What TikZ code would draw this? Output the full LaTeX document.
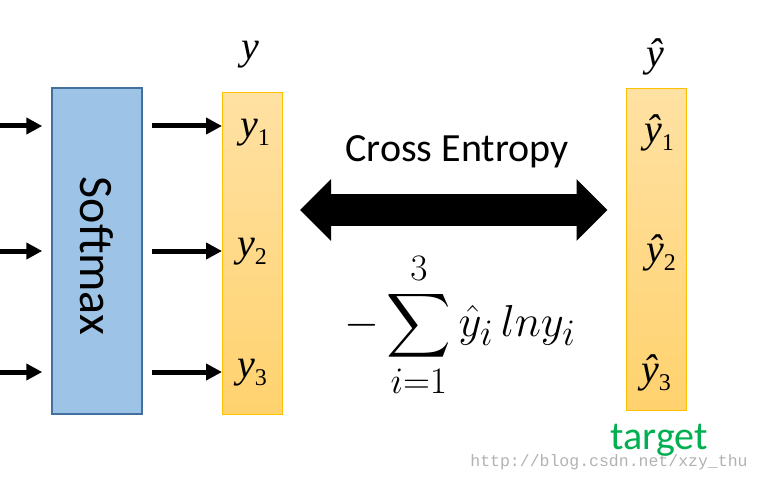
\documentclass[tikz,border=0pt]{standalone}
\usepackage{graphicx}
\usepackage{amsmath}
\usepackage{exscale}
\usepackage{fontspec}
\setmainfont{Carlito}
\newfontfamily\timesf{Liberation Serif}
\newfontfamily\monof{Liberation Mono}
\usetikzlibrary{arrows.meta,positioning}
\definecolor{smfill}{HTML}{9DC3E6}
\definecolor{smdraw}{HTML}{41719C}
\definecolor{vectop}{HTML}{FFE1A3}
\definecolor{vecbot}{HTML}{FFD26E}
\definecolor{vecdraw}{HTML}{FFC000}
\definecolor{tgtgreen}{HTML}{00B050}
\newcommand{\comp}[2]{{\timesf\itshape #1}\raisebox{-8pt}{\timesf\fontsize{24}{24}\selectfont #2}}

\begin{document}
\begin{tikzpicture}[
  x=1pt, y=-1pt,
  smbox/.style  ={draw=smdraw, line width=1.5pt, fill=smfill, minimum width=90pt,
                  minimum height=326pt, inner sep=0pt},
  vecbox/.style ={draw=vecdraw, line width=1pt, top color=vectop, bottom color=vecbot,
                  minimum width=60pt, minimum height=321pt, inner sep=0pt},
  comp/.style   ={font=\fontsize{40}{40}\selectfont, inner sep=0pt},
  lbl/.style    ={font=\fontsize{40}{40}\selectfont, inner sep=0pt},
  arr/.style    ={-{Triangle[length=16pt,width=16pt]}, line width=5pt},
  bigarr/.style ={{Triangle[length=31pt,width=60pt]}-{Triangle[length=31pt,width=60pt]},
                  line width=32pt}
]
\useasboundingbox (0,0) rectangle (759,481);

%%% ---- softmax and the two vectors --------------------------------------
\node[smbox]  (softmax) at (97,251)    {};
\node[rotate=-90, font=\fontsize{48}{48}\selectfont] (smtext) at (97,256) {Softmax};
\node[vecbox] (ybox)    at (252.5,253.5) {};
\node[vecbox] (yhatbox) at (656,249.5) {};

% headers over the vectors
\node[comp] (yhead)    at (250,55) {\timesf\itshape y};
\node[comp] (yhathead) at (655,57) {\timesf\itshape ŷ};

% entries
\node[comp] (y1) at (255,133) {\comp{y}{1}};
\node[comp] (y2) at (252,252) {\comp{y}{2}};
\node[comp] (y3) at (252,373) {\comp{y}{3}};
\node[comp] (yh1) at (659,133) {\comp{ŷ}{1}};
\node[comp] (yh2) at (661,253) {\comp{ŷ}{2}};
\node[comp] (yh3) at (656,373) {\comp{ŷ}{3}};

%%% ---- inputs and outputs of softmax -------------------------------------
\foreach \i/\h in {1/126, 2/251, 3/372} {
  \coordinate (in\i) at (0,\h);
  \draw[arr, shorten >=9pt] (in\i) -- (in\i -| softmax.west);
  \draw[arr, shorten <=9pt] (in\i -| softmax.east) -- (in\i -| ybox.west);
}

%%% ---- cross entropy -------------------------------------------------------
\coordinate (ceL) at (282,210);
\draw[bigarr, shorten <=18pt, shorten >=18pt] (ceL) -- (ceL -| yhatbox.west);
\node[lbl] (cetext) at (457,152) {Cross Entropy};
\node[inner sep=0pt] (loss) at (460,325)
      {\Huge\scalebox{1.8}{$\displaystyle -\sum_{i=1}^{3}\hat{y}_i\, ln y_i$}};

%%% ---- target and source ---------------------------------------------------
\node[lbl, text=tgtgreen] (target) at (659,440) {target};
\node[font=\monof\fontsize{16.5}{16.5}\selectfont, text=black!30, inner sep=0pt]
      (wm) at (609,462) {http://blog.csdn.net/xzy\_thu};

\end{tikzpicture}
\end{document}
